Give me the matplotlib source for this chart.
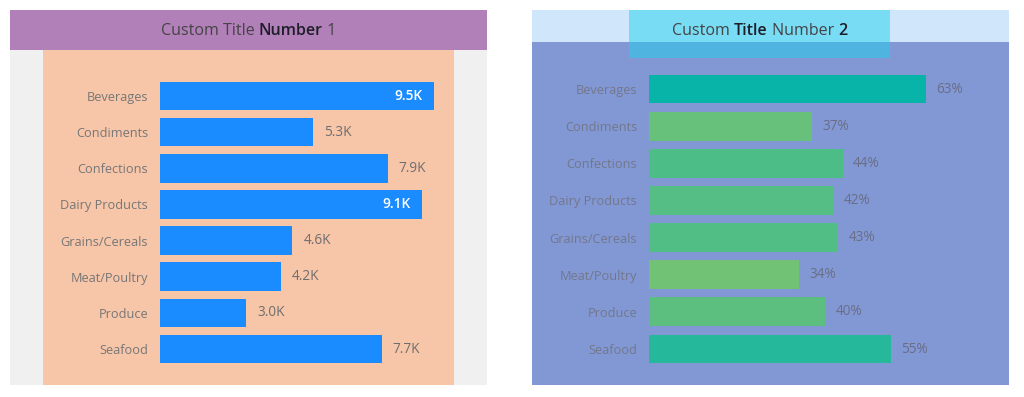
import matplotlib
matplotlib.use("Agg")
import matplotlib.pyplot as plt
from matplotlib.patches import Rectangle
from matplotlib.colors import LinearSegmentedColormap, Normalize

categories = ["Beverages", "Condiments", "Confections", "Dairy Products",
              "Grains/Cereals", "Meat/Poultry", "Produce", "Seafood"]
sales_k = [9.5, 5.3, 7.9, 9.1, 4.6, 4.2, 3.0, 7.7]
share_pct = [63, 37, 44, 42, 43, 34, 40, 55]
title_1 = [("Custom Title ", "normal"), ("Number", "semibold"), (" 1", "normal")]
title_2 = [("Custom ", "normal"), ("Title", "semibold"), (" Number ", "normal"), ("2", "semibold")]

plt.rcParams["font.family"] = ["Open Sans", "DejaVu Sans"]

W, H = 1024, 397
fig = plt.figure(figsize=(W / 100, H / 100), dpi=100)
fig.patch.set_facecolor("white")


def px_rect(x0, y0, x1, y1, color, alpha=1.0):
    fig.patches.append(Rectangle((x0 / W, 1 - y1 / H), (x1 - x0) / W, (y1 - y0) / H,
                                 transform=fig.transFigure, facecolor=color,
                                 edgecolor="none", alpha=alpha, zorder=-1))


def px_axes(x0, y0, x1, y1):
    ax = fig.add_axes([x0 / W, 1 - y1 / H, (x1 - x0) / W, (y1 - y0) / H])
    ax.set_facecolor("none")
    for s in ax.spines.values():
        s.set_visible(False)
    ax.set_xticks([])
    ax.tick_params(axis="y", length=0, pad=8.6)
    return ax


def mixed_title(parts, cx, cy, size, colors):
    renderer = fig.canvas.get_renderer()
    texts = []
    for (s, w), c in zip(parts, colors):
        texts.append(fig.text(0, cy / 1.0, s, fontsize=size, fontweight=w, color=c,
                              ha="left", va="center", transform=None))
    widths = [t.get_window_extent(renderer).width for t in texts]
    x = cx - sum(widths) / 2
    for t, w in zip(texts, widths):
        t.set_position((x, H - cy))
        x += w


# ---- panel 1 backgrounds
px_rect(10, 10, 487, 50, "#B280B8")
px_rect(10, 50, 487, 385, "#F0F0F0")
px_rect(43, 50, 454, 385, "#F7C5A8")

# ---- panel 2 backgrounds
px_rect(532, 10, 1009, 42, "#D0E6FA")
px_rect(532, 42, 1009, 385, "#8198D4")
px_rect(629, 10, 890, 58, "#1BD3F0", alpha=0.48)

n = len(categories)
pos = list(range(n))

# ---- left chart
ax1 = px_axes(160, 50, 454, 385)
k_per_px = 1 / 28.8
xmax1 = 294 * k_per_px
ax1.set_xlim(0, xmax1)
sp1 = (349 - 96) / 7
ax1.set_ylim(7 + (385 - 349) / sp1, -(96 - 50) / sp1)
ax1.barh(pos, sales_k, height=0.79, color="#1A8CFF")
ax1.set_yticks(pos)
ax1.set_yticklabels(categories, fontsize=9.2, color="#777777")
for i, v in enumerate(sales_k):
    lab = f"{v:.1f}K"
    if v + 46 * k_per_px > xmax1:
        ax1.annotate(lab, (v, i), xytext=(-8, 0), textcoords="offset points",
                     ha="right", va="center", fontsize=9.8, fontweight="semibold", color="white")
    else:
        ax1.annotate(lab, (v, i), xytext=(8, 0), textcoords="offset points",
                     ha="left", va="center", fontsize=9.8, color="#6E6E6E")

# ---- right chart
cmap = LinearSegmentedColormap.from_list("g2t", ["#72C276", "#08B4A8"])
norm = Normalize(min(share_pct), max(share_pct))
ax2 = px_axes(649, 42, 1009, 385)
pct_per_px = 1 / 4.4
ax2.set_xlim(0, 360 * pct_per_px)
sp2 = (349 - 89) / 7
ax2.set_ylim(7 + (385 - 349) / sp2, -(89 - 42) / sp2)
ax2.barh(pos, share_pct, height=0.78, color=[cmap(norm(v)) for v in share_pct])
ax2.set_yticks(pos)
ax2.set_yticklabels(categories, fontsize=9.2, color="#74778C")
for i, v in enumerate(share_pct):
    ax2.annotate(f"{v}%", (v, i), xytext=(7.5, 0), textcoords="offset points",
                 ha="left", va="center", fontsize=9.8, color="#6A6D86")

mixed_title(title_1, 248.5, 31, 11.5, ["#444444", "#1E1E2A", "#444444"])
mixed_title(title_2, 759.5, 31, 11.5, ["#444444", "#1E1E2A", "#444444", "#1E1E2A"])

fig.savefig("out.png", dpi=100)
